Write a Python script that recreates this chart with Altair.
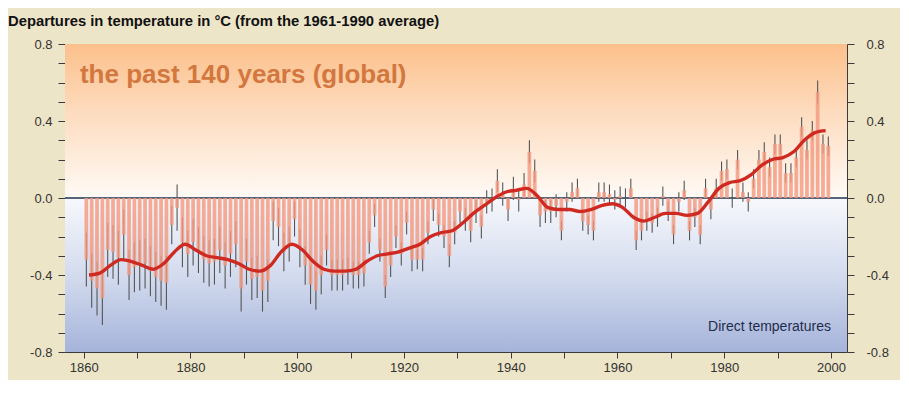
import altair as alt
import pandas as pd

years = list(range(1861, 2001))

anomaly = [
    -0.32, -0.43, -0.47, -0.52, -0.27, -0.28, -0.31, -0.19, -0.40, -0.36,  # 1861-1870
    -0.35, -0.34, -0.38, -0.41, -0.43, -0.44, -0.14, -0.05, -0.23, -0.29,  # 1871-1880
    -0.23, -0.27, -0.32, -0.34, -0.33, -0.27, -0.35, -0.29, -0.24, -0.47,  # 1881-1890
    -0.33, -0.42, -0.41, -0.48, -0.43, -0.12, -0.15, -0.28, -0.24, -0.11,  # 1891-1900
    -0.26, -0.35, -0.45, -0.48, -0.40, -0.27, -0.40, -0.40, -0.40, -0.38,  # 1901-1910
    -0.40, -0.40, -0.39, -0.23, -0.09, -0.27, -0.46, -0.35, -0.20, -0.29,  # 1911-1920
    -0.13, -0.32, -0.32, -0.32, -0.18, -0.06, -0.14, -0.20, -0.30, -0.18,  # 1921-1930
    -0.07, -0.11, -0.17, -0.07, -0.15, -0.02, -0.01, 0.09, 0.02, -0.06,    # 1931-1940
    0.05, -0.01, 0.07, 0.24, 0.14, -0.09, -0.07, -0.07, -0.04, -0.17,      # 1941-1950
    -0.02, 0.03, 0.05, -0.12, -0.14, -0.17, 0.03, 0.03, 0.02, -0.01,       # 1951-1960
    0.01, 0.00, 0.05, -0.22, -0.17, -0.12, -0.13, -0.10, 0.01, -0.07,      # 1961-1970
    -0.19, -0.02, 0.04, -0.17, -0.10, -0.19, 0.05, -0.06, 0.05, 0.14,      # 1971-1980
    0.15, 0.00, 0.20, 0.03, -0.02, 0.10, 0.20, 0.24, 0.16, 0.28,           # 1981-1990
    0.28, 0.13, 0.13, 0.21, 0.37, 0.25, 0.35, 0.55, 0.28, 0.27,            # 1991-2000
]

uncertainty = [
    0.14, 0.14, 0.14, 0.14, 0.14, 0.14, 0.14, 0.13, 0.13, 0.13,
    0.13, 0.13, 0.13, 0.13, 0.13, 0.14, 0.10, 0.12, 0.13, 0.12,
    0.12, 0.12, 0.12, 0.12, 0.12, 0.12, 0.12, 0.12, 0.12, 0.12,
    0.12, 0.11, 0.11, 0.11, 0.11, 0.10, 0.10, 0.10, 0.09, 0.09,
    0.10, 0.10, 0.10, 0.10, 0.10, 0.08, 0.08, 0.08, 0.08, 0.07,
    0.07, 0.07, 0.07, 0.06, 0.06, 0.06, 0.06, 0.06, 0.06, 0.06,
    0.06, 0.06, 0.05, 0.06, 0.06, 0.06, 0.06, 0.06, 0.06, 0.06,
    0.06, 0.06, 0.06, 0.06, 0.06, 0.06, 0.06, 0.06, 0.06, 0.06,
    0.06, 0.06, 0.06, 0.06, 0.06, 0.06, 0.06, 0.06, 0.06, 0.05,
    0.05, 0.05, 0.05, 0.05, 0.05, 0.05, 0.05, 0.05, 0.05, 0.05,
    0.05, 0.05, 0.05, 0.05, 0.05, 0.05, 0.05, 0.05, 0.05, 0.05,
    0.05, 0.05, 0.05, 0.05, 0.05, 0.05, 0.05, 0.05, 0.05, 0.05,
    0.05, 0.05, 0.05, 0.05, 0.05, 0.05, 0.05, 0.05, 0.05, 0.05,
    0.05, 0.05, 0.05, 0.05, 0.05, 0.05, 0.05, 0.06, 0.05, 0.05,
]

smooth_years = [1861, 1863, 1865, 1867, 1869, 1871, 1873, 1875, 1877, 1879,
                1881, 1883, 1885, 1887, 1889, 1891, 1893, 1895, 1897, 1899,
                1901, 1903, 1905, 1907, 1909, 1911, 1913, 1915, 1917, 1919,
                1921, 1923, 1925, 1927, 1929, 1931, 1933, 1935, 1937, 1939,
                1941, 1943, 1945, 1947, 1949, 1951, 1953, 1955, 1957, 1959,
                1961, 1963, 1965, 1967, 1969, 1971, 1973, 1975, 1977, 1979,
                1981, 1983, 1985, 1987, 1989, 1991, 1993, 1995, 1997, 1999]
smooth_vals = [-0.40, -0.39, -0.35, -0.32, -0.33, -0.35, -0.37, -0.34, -0.28, -0.24,
               -0.27, -0.30, -0.31, -0.32, -0.34, -0.37, -0.38, -0.35, -0.28, -0.24,
               -0.27, -0.33, -0.37, -0.38, -0.38, -0.37, -0.33, -0.30, -0.29, -0.28,
               -0.26, -0.24, -0.20, -0.18, -0.17, -0.13, -0.08, -0.04, 0.00, 0.03,
               0.04, 0.05, 0.01, -0.05, -0.06, -0.06, -0.07, -0.06, -0.04, -0.03,
               -0.05, -0.10, -0.12, -0.10, -0.08, -0.08, -0.09, -0.08, -0.02, 0.05,
               0.08, 0.09, 0.12, 0.17, 0.20, 0.21, 0.24, 0.30, 0.34, 0.35]

title_text = "Departures in temperature in \u00b0C (from the 1961-1990 average)"
panel_text = "the past 140 years (global)"
note_text = "Direct temperatures"

df = pd.DataFrame({"year": years[:len(anomaly)], "val": anomaly, "err": uncertainty[:len(anomaly)]})
sm = pd.DataFrame({"year": smooth_years, "val": smooth_vals})

FONT = "Liberation Sans"
W, H = 782, 308
xsc = alt.Scale(domain=[1856.5, 2003], nice=False, zero=False)
ysc = alt.Scale(domain=[-0.8, 0.8], nice=False, zero=False)
yvals = [-0.8, -0.7, -0.6, -0.5, -0.4, -0.3, -0.2, -0.1, 0.0, 0.1, 0.2, 0.3, 0.4, 0.5, 0.6, 0.7, 0.8]
ylab = "round(datum.value*10) % 4 == 0 ? (datum.value < 0 ? '-' : '') + format(abs(datum.value), '.1f') : ''"

xaxis = alt.Axis(values=list(range(1860, 2001, 10)), format="d",
                 labelExpr="datum.value % 20 == 0 ? datum.label : ''",
                 title=None, grid=False, domainColor="#3a3a3a", tickColor="#3a3a3a",
                 tickSize=6, labelFont=FONT, labelFontSize=13, labelColor="#333333",
                 labelPadding=3)


def yaxis(orient, pad):
    return alt.Axis(orient=orient, values=yvals, labelExpr=ylab, title=None, grid=False,
                    domain=True, domainColor="#3a3a3a", tickColor="#3a3a3a", tickSize=7,
                    labelFont=FONT, labelFontSize=13, labelColor="#333333", labelPadding=pad)


one = pd.DataFrame({"a": [0]})

bg_top = alt.Chart(one).mark_rect(
    color=alt.LinearGradient(gradient="linear", x1=0, x2=0, y1=0, y2=1,
                             stops=[alt.GradientStop(color="#fcc08b", offset=0),
                                    alt.GradientStop(color="#fddcbf", offset=0.45),
                                    alt.GradientStop(color="#fffaf6", offset=1)])
).encode(
    x=alt.X(datum=1856.5, type="quantitative", scale=xsc, axis=xaxis),
    x2=alt.datum(2003),
    y=alt.Y(datum=0.8, type="quantitative", scale=ysc, axis=yaxis("left", 6)),
    y2=alt.datum(0.0),
)

bg_bot = alt.Chart(one).mark_rect(
    color=alt.LinearGradient(gradient="linear", x1=0, x2=0, y1=0, y2=1,
                             stops=[alt.GradientStop(color="#f7f8fc", offset=0),
                                    alt.GradientStop(color="#d3dbee", offset=0.5),
                                    alt.GradientStop(color="#a6b4da", offset=1)])
).encode(
    x=alt.X(datum=1856.5, type="quantitative", scale=xsc, axis=xaxis),
    x2=alt.datum(2003),
    y=alt.Y(datum=0.0, type="quantitative", scale=ysc, axis=yaxis("right", 12)),
    y2=alt.datum(-0.8),
)

errs = alt.Chart(df).transform_calculate(
    xc="datum.year - 0.5", lo="datum.val - datum.err", hi="datum.val + datum.err"
).mark_rule(color="#555555", strokeWidth=1.1).encode(
    x=alt.X("xc:Q", scale=xsc, axis=xaxis),
    y=alt.Y("lo:Q", scale=ysc, axis=None),
    y2="hi:Q",
)

bars = alt.Chart(df).transform_calculate(
    x0="datum.year - 0.85", x1="datum.year - 0.15"
).mark_bar(color="#f39a80", opacity=0.82).encode(
    x=alt.X("x0:Q", scale=xsc, axis=xaxis),
    x2="x1:Q",
    y=alt.Y("val:Q", scale=ysc, axis=None),
    y2=alt.datum(0),
)

zero = alt.Chart(one).mark_rule(color="#1d3350", strokeWidth=1.6).encode(
    x=alt.X(datum=1856.5, type="quantitative", scale=xsc, axis=xaxis),
    x2=alt.datum(2003),
    y=alt.Y(datum=0.0, type="quantitative", scale=ysc, axis=None),
)

smooth = alt.Chart(sm).mark_line(color="#cf2a22", strokeWidth=3.4, interpolate="monotone").encode(
    x=alt.X("year:Q", scale=xsc, axis=xaxis),
    y=alt.Y("val:Q", scale=ysc, axis=None),
)

panel = alt.Chart(one).mark_text(
    text=panel_text, font=FONT, fontSize=26, fontWeight="bold", color="#d3773f",
    align="left", baseline="alphabetic"
).encode(
    x=alt.X(datum=1859.3, type="quantitative", scale=xsc, axis=xaxis),
    y=alt.Y(datum=0.6, type="quantitative", scale=ysc, axis=None),
)

note = alt.Chart(one).mark_text(
    text=note_text, font=FONT, fontSize=14, color="#1f2d4d",
    align="right", baseline="alphabetic"
).encode(
    x=alt.X(datum=2000, type="quantitative", scale=xsc, axis=xaxis),
    y=alt.Y(datum=-0.69, type="quantitative", scale=ysc, axis=None),
)

title = alt.Chart(one).mark_text(
    text=title_text, font=FONT, fontSize=14.8, fontWeight="bold", color="#111111",
    align="left", baseline="middle"
).encode(x=alt.value(-57), y=alt.value(-22))

chart = alt.layer(bg_top, bg_bot, zero, errs, bars, smooth, panel, note, title).resolve_scale(
    y="independent"
).properties(
    width=W, height=H,
    autosize=alt.AutoSizeParams(type="none"),
    padding={"left": 57, "top": 36, "right": 53, "bottom": 28},
).configure(background="#ede5c8").configure_view(stroke=None)

chart.save("out.html", embed_options={"renderer": "svg", "actions": False})
